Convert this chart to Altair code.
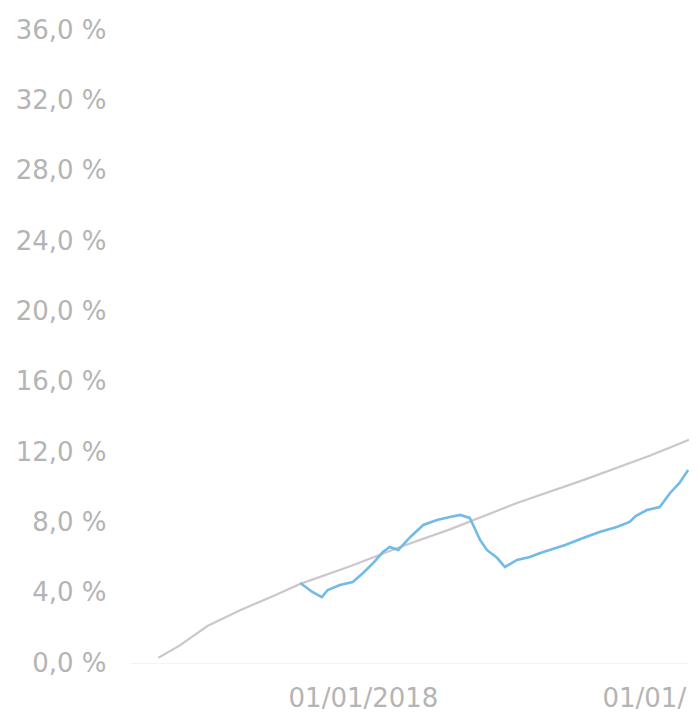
import altair as alt
import pandas as pd

# Reference (target) curve
ref_dates = ["2017-05-08", "2017-06-02", "2017-07-04", "2017-08-11", "2017-09-18",
             "2017-10-20", "2017-12-17", "2018-02-13", "2018-04-12", "2018-06-29",
             "2018-09-14", "2018-12-01", "2019-01-15"]
ref_values = [0.3, 1.0, 2.1, 3.0, 3.8, 4.5, 5.5, 6.6, 7.6, 9.1, 10.4, 11.8, 12.7]

# Actual performance curve
perf_dates = ["2017-10-20", "2017-11-03", "2017-11-14", "2017-11-21", "2017-12-05",
              "2017-12-20", "2018-01-01", "2018-01-13", "2018-01-24", "2018-02-01",
              "2018-02-11", "2018-02-25", "2018-03-12", "2018-03-28", "2018-04-12",
              "2018-04-24", "2018-05-05", "2018-05-09", "2018-05-17", "2018-05-25",
              "2018-06-06", "2018-06-15", "2018-06-29", "2018-07-14", "2018-07-26",
              "2018-08-06", "2018-08-24", "2018-09-14", "2018-10-03", "2018-10-23",
              "2018-11-07", "2018-11-14", "2018-11-27", "2018-12-12", "2018-12-24",
              "2019-01-04", "2019-01-14"]
perf_values = [4.55, 4.04, 3.75, 4.15, 4.44, 4.61, 5.12, 5.69, 6.31, 6.60,
               6.43, 7.17, 7.85, 8.13, 8.30, 8.42, 8.25, 7.85, 7.00, 6.43,
               5.97, 5.46, 5.86, 6.03, 6.26, 6.43, 6.71, 7.11, 7.45, 7.74,
               8.02, 8.35, 8.70, 8.87, 9.67, 10.24, 10.98]

y_ticks = [0, 4, 8, 12, 16, 20, 24, 28, 32, 36]

ref_df = pd.DataFrame({"date": ref_dates, "value": ref_values})
perf_df = pd.DataFrame({"date": perf_dates, "value": perf_values})

x_scale = alt.Scale(type="utc",
                    domain=[alt.DateTime(year=2017, month=4, date=5, utc=True),
                            alt.DateTime(year=2019, month=1, date=15, utc=True)])
y_scale = alt.Scale(domain=[0, 36], nice=False)

x_label_expr = ("utcyear(datum.value) >= 2019 ? utcFormat(datum.value, '%d/%m/') "
                ": utcFormat(datum.value, '%d/%m/%Y')")

x_enc = alt.X("date:T", scale=x_scale,
              axis=alt.Axis(values=[alt.DateTime(year=2018, month=1, date=1, utc=True),
                                    alt.DateTime(year=2019, month=1, date=1, utc=True)],
                            labelExpr=x_label_expr,
                            title=None, grid=False, ticks=False, domain=True,
                            domainColor="#f3f3f3", labelFontSize=26,
                            labelFont="DejaVu Sans", labelColor="#b4b4b4",
                            labelAlign="left", labelOffset=-75,
                            labelPadding=22, labelOverlap=False, labelBound=False,
                            labelFlush=False))
y_enc = alt.Y("value:Q", scale=y_scale,
              axis=alt.Axis(values=y_ticks,
                            labelExpr="replace(format(datum.value, '.1f'), '.', ',') + ' %'",
                            title=None, grid=False, ticks=False, domain=False,
                            labelFontSize=26, labelFont="DejaVu Sans",
                            labelColor="#b4b4b4", labelPadding=24))

ref_line = alt.Chart(ref_df).mark_line(color="#cdc6cd", strokeWidth=2.2).encode(
    x=x_enc, y=y_enc)
perf_line = alt.Chart(perf_df).mark_line(color="#72bae8", strokeWidth=2.6).encode(
    x=x_enc, y=y_enc)

chart = alt.layer(ref_line, perf_line).properties(
    width=559, height=633,
    background="white",
    autosize=alt.AutoSizeParams(type="none"),
    padding={"left": 122, "top": 22, "right": 0, "bottom": 50},
).configure_view(strokeWidth=0, stroke="transparent")

chart.save("out.html", embed_options={"renderer": "svg", "actions": False})
